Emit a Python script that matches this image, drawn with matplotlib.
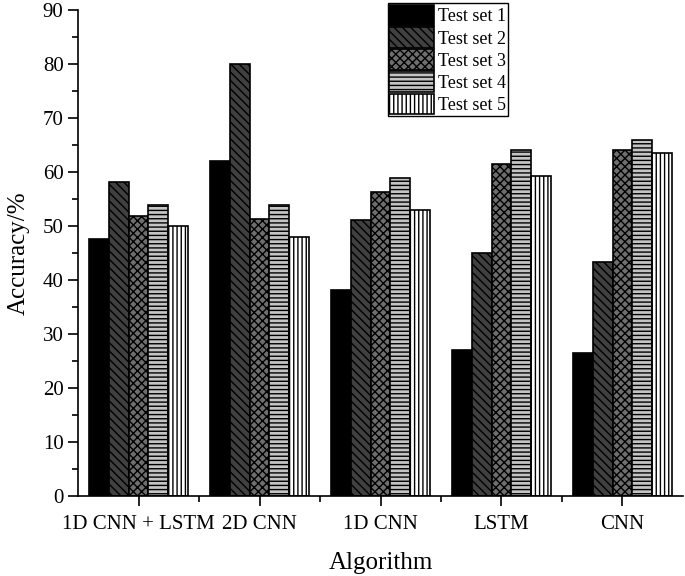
import numpy as np
import matplotlib
matplotlib.use("Agg")
import matplotlib.pyplot as plt
from matplotlib.ticker import MultipleLocator

plt.rcParams['font.family'] = ['Liberation Serif', 'DejaVu Serif']
plt.rcParams['hatch.linewidth'] = 1.0

# Accuracy values
algorithms = ["1D CNN + LSTM", "2D CNN", "1D CNN", "LSTM", "CNN"]
series_names = ["Test set 1", "Test set 2", "Test set 3", "Test set 4", "Test set 5"]
test_set_1 = [47.6, 62.0, 38.1, 27.0, 26.5]
test_set_2 = [58.1, 80.0, 51.0, 45.0, 43.3]
test_set_3 = [51.9, 51.2, 56.2, 61.5, 64.0]
test_set_4 = [53.9, 53.9, 58.9, 64.0, 65.9]
test_set_5 = [49.9, 47.9, 53.0, 59.2, 63.4]
all_sets = [test_set_1, test_set_2, test_set_3, test_set_4, test_set_5]

face_colors = ["#000000", "#404040", "#6e6e6e", "#c4c4c4", "#ffffff"]
hatches = ["", "\\\\\\\\", "xxxx", "----", "||||"]

fig = plt.figure(figsize=(6.85, 5.76), dpi=100)
ax = fig.add_axes([0.114, 0.139, 0.883, 0.844])

x = np.arange(len(algorithms))
width = 0.164
for i, vals in enumerate(all_sets):
    offset = (i - 2) * width
    ax.bar(x + offset, vals, width, color=face_colors[i], edgecolor="black",
           hatch=hatches[i], linewidth=1.2, label=series_names[i])

ax.set_xlim(-0.5, 4.5)
ax.set_ylim(0, 90)
ax.set_xticks(x)
ax.set_xticklabels(algorithms)
ax.set_xticks(x[:-1] + 0.5, minor=True)
ax.yaxis.set_major_locator(MultipleLocator(10))
ax.yaxis.set_minor_locator(MultipleLocator(5))
ax.tick_params(axis="both", which="major", direction="out", length=7, width=1.2, labelsize=15)
ax.tick_params(axis="both", which="minor", direction="out", length=4, width=1.2)
ax.tick_params(axis="x", which="major", pad=7)
ax.spines["top"].set_visible(False)
ax.spines["right"].set_visible(False)
ax.spines["left"].set_linewidth(1.2)
ax.spines["bottom"].set_linewidth(1.2)

ax.set_xlabel("Algorithm", fontsize=18, labelpad=13)
ax.set_ylabel("Accuracy/%", fontsize=18, labelpad=9)

leg = ax.legend(loc="upper right", bbox_to_anchor=(0.711, 1.013), fontsize=13,
                frameon=True, fancybox=False, edgecolor="black", framealpha=1,
                handlelength=2.45, handleheight=1.35, borderpad=0.1,
                labelspacing=0.1, handletextpad=0.25, borderaxespad=0)
leg.get_frame().set_linewidth(1.0)

fig.savefig("out.png", dpi=100)
